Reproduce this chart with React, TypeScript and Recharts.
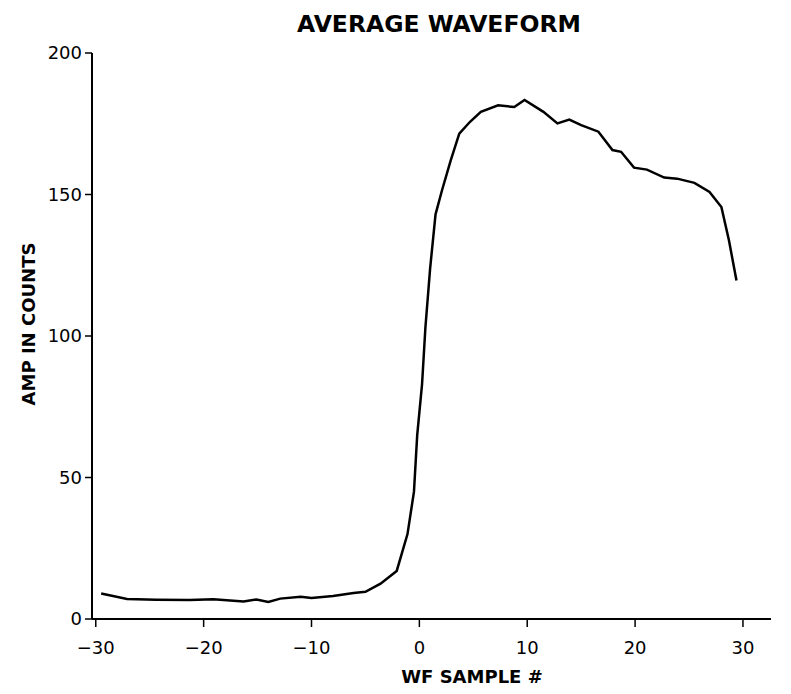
import { LineChart, Line, XAxis, YAxis } from "recharts";

// sample positions (WF sample #)
const sampleX = [
  -29.5, -27.1, -24.4, -21.3, -19.1, -16.3, -15.1, -14.0, -12.9, -11.0, -10.0,
  -8.0, -6.1, -5.0, -3.6, -2.1, -1.1, -0.5, -0.2, 0.25, 0.56, 1.0, 1.5, 2.1,
  2.9, 3.7, 4.7, 5.7, 7.3, 8.8, 9.75, 11.5, 12.8, 13.9, 15.0, 16.6, 17.9, 18.7,
  19.9, 21.1, 22.7, 23.9, 25.5, 26.9, 28.0, 28.7, 29.4,
];

// amplitude in counts at each sample position
const amplitude = [
  9.0, 7.1, 6.8, 6.7, 7.0, 6.2, 6.9, 6.0, 7.2, 7.9, 7.4, 8.1, 9.2, 9.6, 12.5,
  17, 30, 45, 65, 83, 103, 124, 143, 151.5, 162, 171.5, 175.7, 179.2, 181.5,
  180.9, 183.4, 179.2, 175.1, 176.5, 174.5, 172.2, 165.7, 165.1, 159.5, 158.8,
  156, 155.6, 154.1, 150.9, 145.6, 133.8, 119.6,
];

const xTicks = [-30, -20, -10, 0, 10, 20, 30];
const yTicks = [0, 50, 100, 150, 200];

const FONT = "'DejaVu Sans', sans-serif";

const data = sampleX.map((x, i) => ({ x, amp: amplitude[i] }));

const fmtMinus = (v: number) => (v < 0 ? `\u2212${Math.abs(v)}` : `${v}`);

export default function App() {
  return (
    <div
      style={{
        position: "absolute",
        left: 0,
        top: 0,
        width: 791,
        height: 694,
        background: "#fff",
        fontFamily: FONT,
      }}
    >
      <LineChart
        width={791}
        height={694}
        data={data}
        margin={{ top: 53, right: 20, left: 0, bottom: 0 }}
      >
        <XAxis
          dataKey="x"
          type="number"
          domain={[-30.35, 32.6]}
          ticks={xTicks}
          allowDataOverflow
          height={75}
          tickSize={8}
          tickMargin={14}
          tickFormatter={fmtMinus}
          axisLine={{ stroke: "#000", strokeWidth: 2 }}
          tickLine={{ stroke: "#000", strokeWidth: 1.5 }}
          tick={{ fill: "#000", fontSize: 18, fontFamily: FONT }}
        />
        <YAxis
          type="number"
          domain={[0, 200]}
          ticks={yTicks}
          width={92}
          tickSize={7}
          tickMargin={3}
          axisLine={{ stroke: "#000", strokeWidth: 2 }}
          tickLine={{ stroke: "#000", strokeWidth: 1.5 }}
          tick={{ fill: "#000", fontSize: 18, fontFamily: FONT }}
        />
        <Line
          type="linear"
          dataKey="amp"
          stroke="#000"
          strokeWidth={2.5}
          dot={false}
          isAnimationActive={false}
        />
      </LineChart>
      <svg
        width={791}
        height={694}
        style={{ position: "absolute", left: 0, top: 0, pointerEvents: "none" }}
      >
        <text
          x={439}
          y={32}
          textAnchor="middle"
          fontSize={23.5}
          fontWeight="bold"
          fontFamily={FONT}
          fill="#000"
        >
          AVERAGE WAVEFORM
        </text>
        <text
          x={472}
          y={683}
          textAnchor="middle"
          fontSize={18}
          fontWeight="bold"
          fontFamily={FONT}
          fill="#000"
        >
          WF SAMPLE #
        </text>
        <text
          x={35}
          y={324}
          textAnchor="middle"
          fontSize={18}
          fontWeight="bold"
          fontFamily={FONT}
          fill="#000"
          transform="rotate(-90 35 324)"
        >
          AMP IN COUNTS
        </text>
      </svg>
    </div>
  );
}
